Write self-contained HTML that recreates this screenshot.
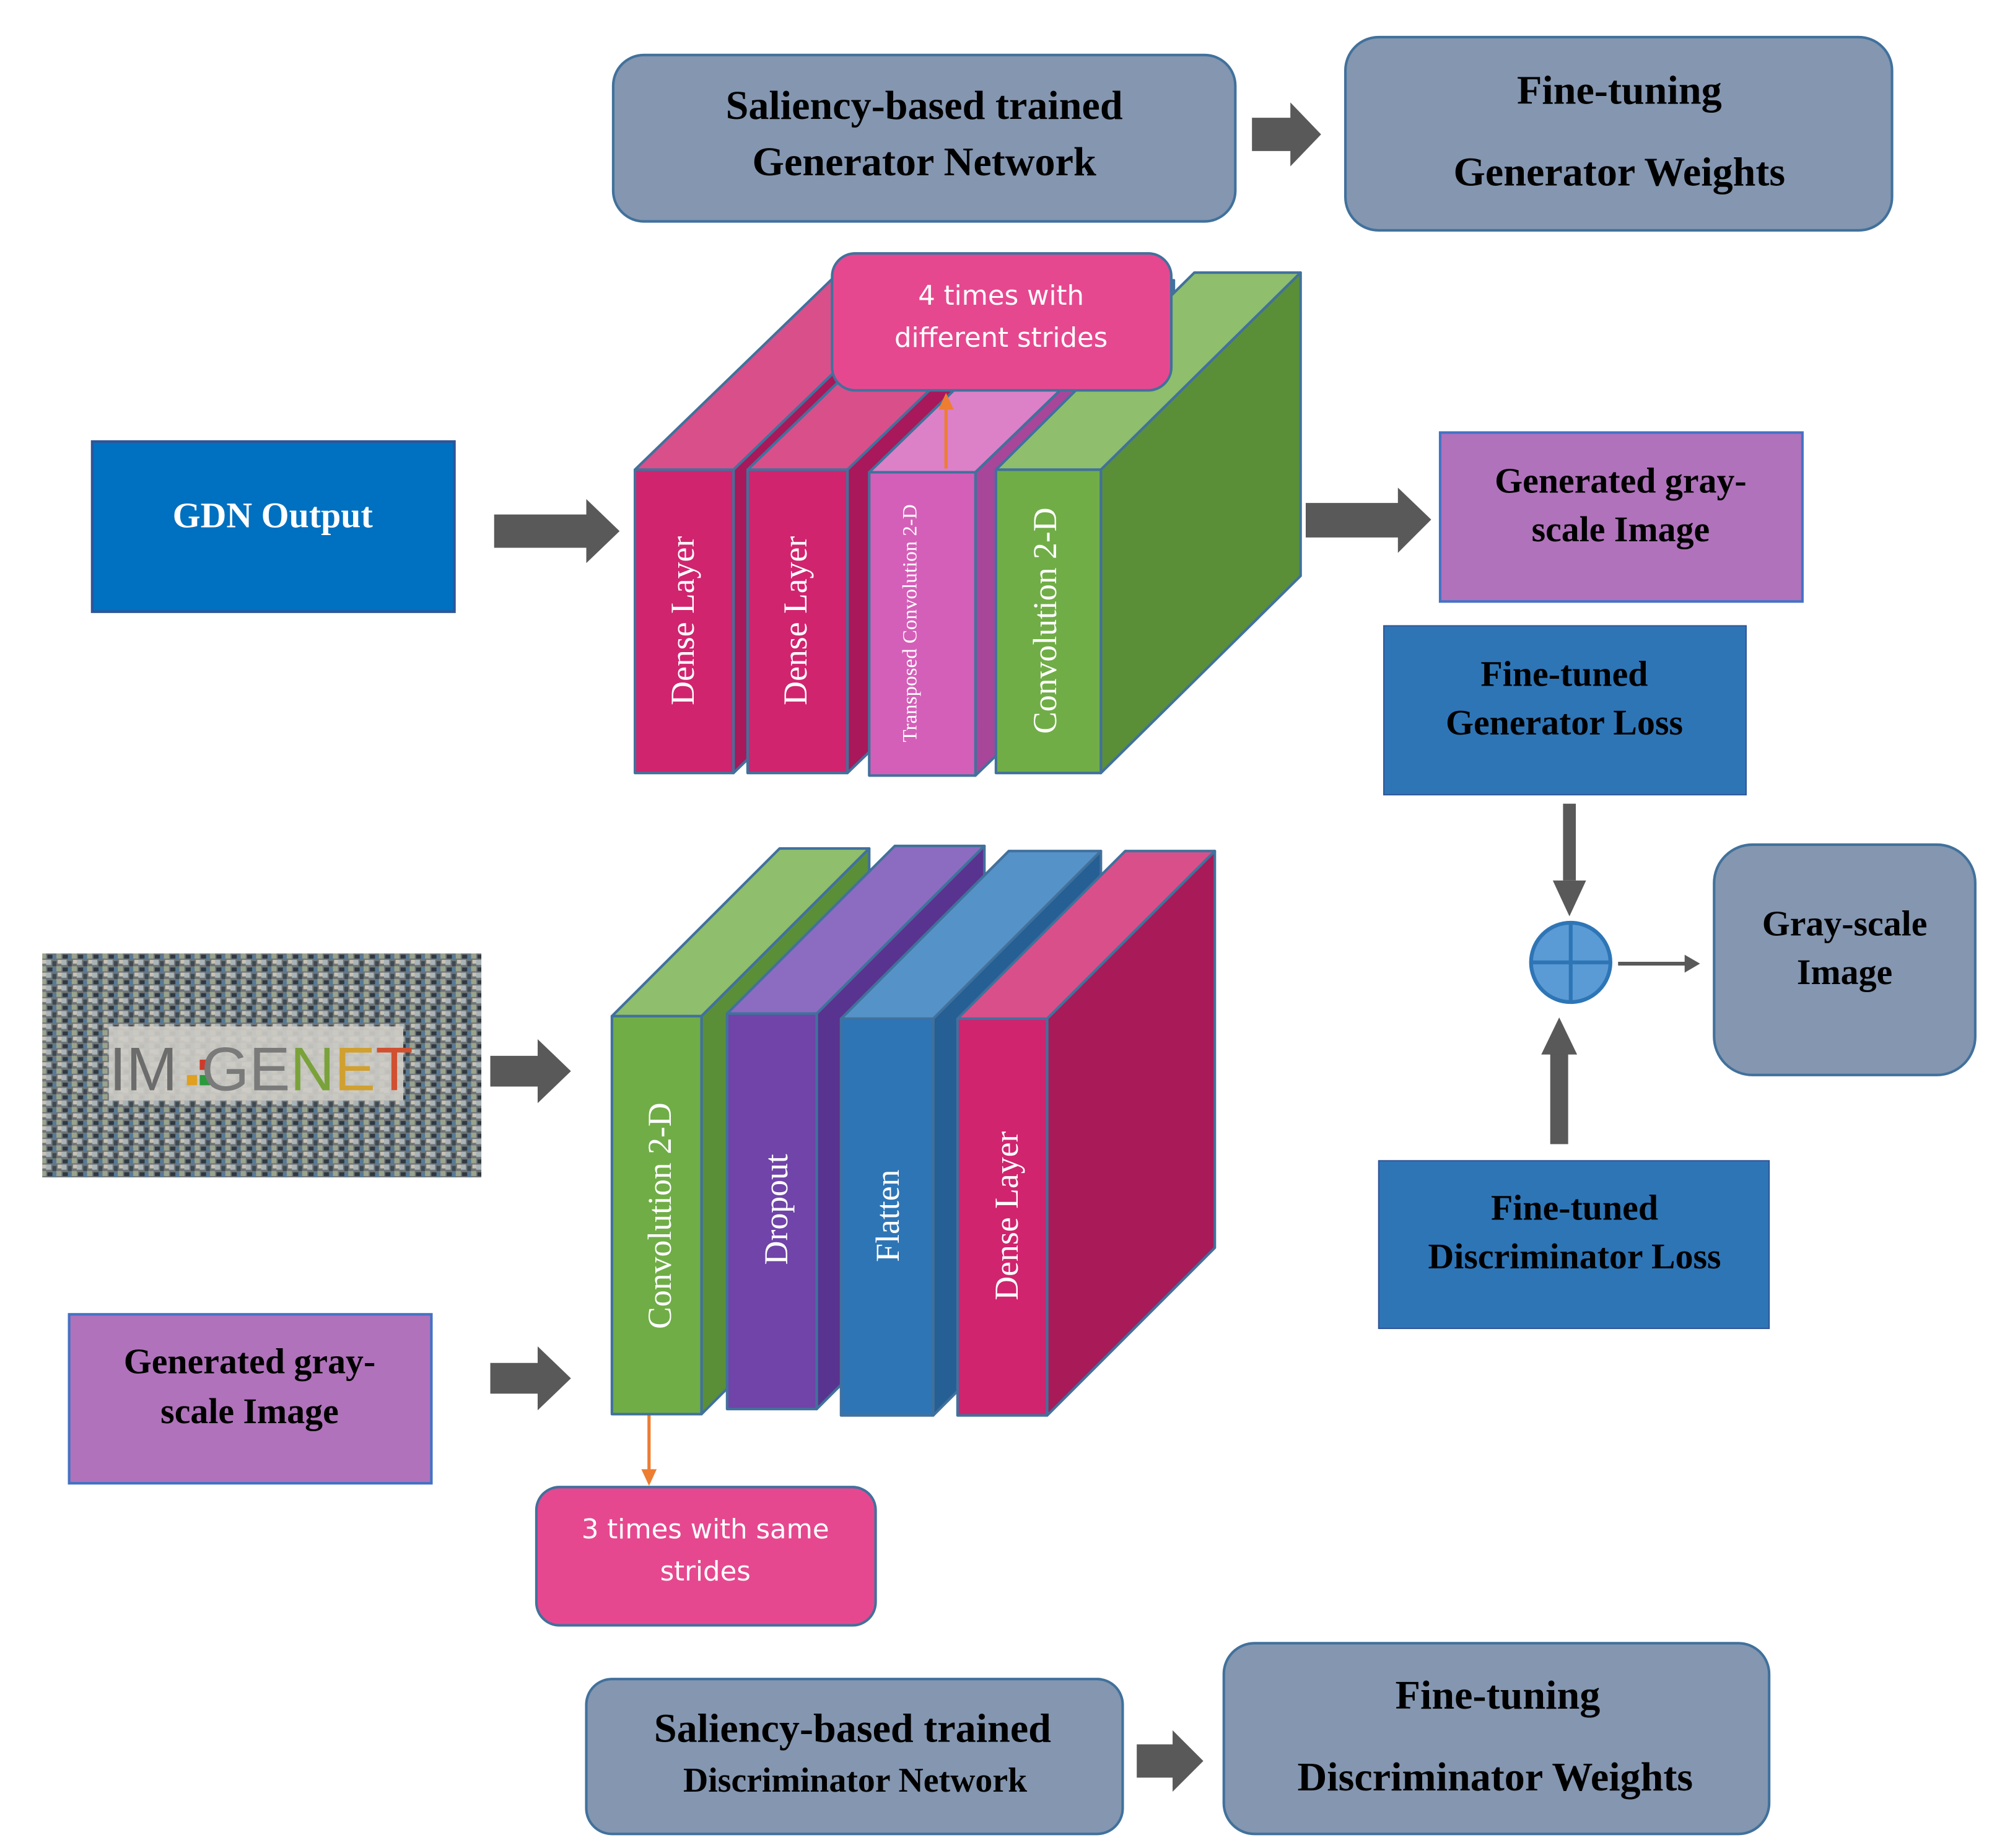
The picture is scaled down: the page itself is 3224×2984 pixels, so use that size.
<!DOCTYPE html>
<html><head><meta charset="utf-8"><style>html,body{margin:0;padding:0;background:#fff}svg{display:block}</style></head><body>
<svg width="3224" height="2984" viewBox="0 0 1560 1444" preserveAspectRatio="none" xmlns="http://www.w3.org/2000/svg">
<defs>
<pattern id="mos" width="12" height="10" patternUnits="userSpaceOnUse">
<rect width="12" height="10" fill="#6f7477"/>
<rect x="0" y="0" width="4" height="4" fill="#a9b4b8"/>
<rect x="5" y="1" width="3" height="4" fill="#3e4a52"/>
<rect x="8" y="5" width="4" height="4" fill="#9aa38c"/>
<rect x="1" y="6" width="4" height="3" fill="#2f3840"/>
<rect x="9" y="0" width="3" height="3" fill="#c9c2b5"/>
<rect x="5" y="6" width="3" height="4" fill="#587a96"/>
</pattern>
</defs>
<g font-family="'Liberation Serif',serif" font-weight="bold" text-anchor="middle">
<!-- top boxes -->
<rect x="479" y="43" width="486" height="130" rx="24" fill="#8496b0" stroke="#41719c" stroke-width="2"/>
<text x="722" y="93" font-size="32">Saliency-based trained</text>
<text x="722" y="137" font-size="32">Generator Network</text>
<polygon points="978,92 1008,92 1008,80 1032,105 1008,130 1008,118 978,118" fill="#595959"/>
<rect x="1051" y="29" width="427" height="151" rx="26" fill="#8496b0" stroke="#41719c" stroke-width="2"/>
<text x="1265" y="81" font-size="32">Fine-tuning</text>
<text x="1265" y="145" font-size="32">Generator Weights</text>

<!-- GDN -->
<rect x="72" y="345" width="283" height="133" fill="#0070c0" stroke="#2f5597" stroke-width="2"/>
<text x="213" y="412" font-size="28" fill="#fff">GDN Output</text>
<polygon points="386,402 458,402 458,390 484,415 458,440 458,428 386,428" fill="#595959"/>

<!-- generator stack -->
<g stroke="#41719c" stroke-width="2" stroke-linejoin="round">
<polygon points="496,367 651,217 728,217 573,367" fill="#d94f8a"/>
<polygon points="573,367 728,217 728,454 573,604" fill="#a8185a"/>
<rect x="496" y="367" width="77" height="237" fill="#d0246e"/>
<polygon points="584,367 739,217 817,217 662,367" fill="#d94f8a"/>
<polygon points="662,367 817,217 817,454 662,604" fill="#a8185a"/>
<rect x="584" y="367" width="78" height="237" fill="#d0246e"/>
<polygon points="679,369 834,219 917,219 762,369" fill="#dc80c8"/>
<polygon points="762,369 917,219 917,456 762,606" fill="#a8469a"/>
<rect x="679" y="369" width="83" height="237" fill="#d45fb8"/>
<polygon points="778,367 933,213 1016,213 860,367" fill="#8fbe6c"/>
<polygon points="860,367 1016,213 1016,450 860,604" fill="#5a8f38"/>
<rect x="778" y="367" width="82" height="237" fill="#70ad47"/>
</g>
<g fill="#fff" font-weight="normal">
<text transform="translate(542,485) rotate(-90)" font-size="26">Dense Layer</text>
<text transform="translate(630,485) rotate(-90)" font-size="26">Dense Layer</text>
<text transform="translate(716,487) rotate(-90)" font-size="16">Transposed Convolution 2-D</text>
<text transform="translate(825,485) rotate(-90)" font-size="26">Convolution 2-D</text>
</g>
<rect x="650" y="198" width="265" height="107" rx="18" fill="#e6488f" stroke="#41719c" stroke-width="2"/>
<g font-family="'DejaVu Sans','Liberation Sans',sans-serif" font-weight="normal" fill="#fff" font-size="21">
<text x="782" y="238">4 times with</text>
<text x="782" y="271">different strides</text>
</g>
<line x1="739" y1="366" x2="739" y2="318" stroke="#ed7d31" stroke-width="2.5"/>
<polygon points="733,320 739,307 745,320" fill="#ed7d31"/>

<polygon points="1020,393 1092,393 1092,381 1118,406 1092,432 1092,420 1020,420" fill="#595959"/>
<rect x="1125" y="338" width="283" height="132" fill="#b072bb" stroke="#4472c4" stroke-width="2"/>
<text x="1266" y="385" font-size="28">Generated gray-</text>
<text x="1266" y="423" font-size="28">scale Image</text>

<rect x="1081" y="489" width="283" height="132" fill="#2e75b6" stroke="#2f5597" stroke-width="1"/>
<text x="1222" y="536" font-size="28">Fine-tuned</text>
<text x="1222" y="574" font-size="28">Generator Loss</text>
<rect x="1221" y="628" width="10" height="60" fill="#595959"/>
<polygon points="1213,688 1239,688 1226,716" fill="#595959"/>
<circle cx="1227" cy="752" r="31" fill="#5b9bd5" stroke="#2e75b6" stroke-width="3"/>
<line x1="1196" y1="752" x2="1258" y2="752" stroke="#2e75b6" stroke-width="3"/>
<line x1="1227" y1="721" x2="1227" y2="783" stroke="#2e75b6" stroke-width="3"/>
<line x1="1264" y1="753" x2="1318" y2="753" stroke="#595959" stroke-width="3"/>
<polygon points="1316,746 1328,753 1316,760" fill="#595959"/>
<rect x="1339" y="660" width="204" height="180" rx="30" fill="#8496b0" stroke="#41719c" stroke-width="2"/>
<text x="1441" y="731" font-size="28">Gray-scale</text>
<text x="1441" y="769" font-size="28">Image</text>
<rect x="1211" y="822" width="14" height="72" fill="#595959"/>
<polygon points="1204,824 1232,824 1218,795" fill="#595959"/>
<rect x="1077" y="907" width="305" height="131" fill="#2e75b6" stroke="#2f5597" stroke-width="1"/>
<text x="1230" y="953" font-size="28">Fine-tuned</text>
<text x="1230" y="991" font-size="28">Discriminator Loss</text>

<!-- imagenet -->
<rect x="33" y="745" width="343" height="175" fill="url(#mos)"/>
<rect x="85" y="802" width="230" height="58" fill="#cfcdc6" opacity="0.9"/>
<text x="112" y="852" font-size="48" font-family="'Liberation Sans',sans-serif" font-weight="normal" fill="#6c6c6c">IM</text>
<rect x="146" y="840" width="8" height="8" fill="#e0a020"/><rect x="156" y="840" width="8" height="8" fill="#2a9a3a"/><rect x="156" y="828" width="8" height="8" fill="#d03a2a"/>
<text x="240" y="852" font-size="48" font-family="'Liberation Sans',sans-serif" font-weight="normal" fill="#8a8a8a"><tspan fill="#7a7a7a">GE</tspan><tspan fill="#7aa23a">N</tspan><tspan fill="#d0a030">E</tspan><tspan fill="#d05030">T</tspan></text>

<polygon points="383,825 420,825 420,812 446,837 420,862 420,849 383,849" fill="#595959"/>
<polygon points="383,1065 420,1065 420,1052 446,1077 420,1102 420,1089 383,1089" fill="#595959"/>
<rect x="54" y="1027" width="283" height="132" fill="#b072bb" stroke="#4472c4" stroke-width="2"/>
<text x="195" y="1073" font-size="28">Generated gray-</text>
<text x="195" y="1112" font-size="28">scale Image</text>

<!-- discriminator stack -->
<g stroke="#41719c" stroke-width="2" stroke-linejoin="round">
<polygon points="478,794 609,663 679,663 548,794" fill="#8fbe6c"/>
<polygon points="548,794 679,663 679,974 548,1105" fill="#5a8f38"/>
<rect x="478" y="794" width="70" height="311" fill="#70ad47"/>
<polygon points="568,792 699,661 769,661 638,792" fill="#8c6cc0"/>
<polygon points="638,792 769,661 769,970 638,1101" fill="#583390"/>
<rect x="568" y="792" width="70" height="309" fill="#7044a8"/>
<polygon points="657,796 788,665 860,665 729,796" fill="#5592c8"/>
<polygon points="729,796 860,665 860,975 729,1106" fill="#255f94"/>
<rect x="657" y="796" width="72" height="310" fill="#2e75b6"/>
<polygon points="748,796 879,665 949,665 818,796" fill="#d94f8a"/>
<polygon points="818,796 949,665 949,975 818,1106" fill="#a81a58"/>
<rect x="748" y="796" width="70" height="310" fill="#d0246e"/>
</g>
<g fill="#fff" font-weight="normal" font-size="26">
<text transform="translate(524,950) rotate(-90)">Convolution 2-D</text>
<text transform="translate(615,945) rotate(-90)">Dropout</text>
<text transform="translate(702,950) rotate(-90)">Flatten</text>
<text transform="translate(795,950) rotate(-90)">Dense Layer</text>
</g>
<line x1="507" y1="1106" x2="507" y2="1150" stroke="#ed7d31" stroke-width="2.5"/>
<polygon points="501,1148 507,1161 513,1148" fill="#ed7d31"/>
<rect x="419" y="1162" width="265" height="108" rx="18" fill="#e6488f" stroke="#41719c" stroke-width="2"/>
<g font-family="'DejaVu Sans','Liberation Sans',sans-serif" font-weight="normal" fill="#fff" font-size="21">
<text x="551" y="1202">3 times with same</text>
<text x="551" y="1235">strides</text>
</g>

<!-- bottom boxes -->
<rect x="458" y="1312" width="419" height="121" rx="20" fill="#8496b0" stroke="#41719c" stroke-width="2"/>
<text x="666" y="1361" font-size="32">Saliency-based trained</text>
<text x="668" y="1400" font-size="27">Discriminator Network</text>
<polygon points="888,1363 916,1363 916,1352 940,1376 916,1400 916,1389 888,1389" fill="#595959"/>
<rect x="956" y="1284" width="426" height="149" rx="24" fill="#8496b0" stroke="#41719c" stroke-width="2"/>
<text x="1170" y="1335" font-size="32">Fine-tuning</text>
<text x="1168" y="1399" font-size="32">Discriminator Weights</text>
</g>
</svg>
</body></html>
